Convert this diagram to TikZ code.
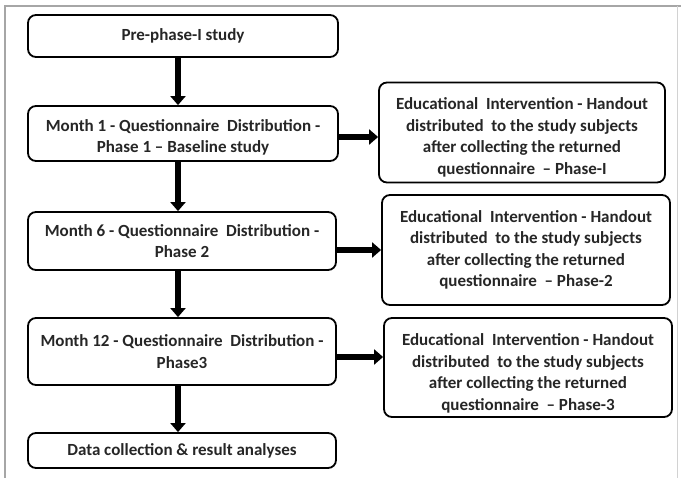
\documentclass[tikz,border=0pt]{standalone}
\usepackage{fontspec}
\setmainfont{Carlito}
\usetikzlibrary{arrows.meta,calc}
\newcommand\topgap[1]{\rule{0pt}{#1}}
\tikzset{
  box/.style={draw=black, line width=1.8pt, rounded corners=8pt, align=center,
    inner sep=0pt, font=\fontsize{17}{21.5}\selectfont\bfseries, text=black!85},
  bigarrow/.style={line width=5.5pt, -{Triangle[length=9pt,width=15pt]}, black},
  frameline/.style={line width=1.2pt, draw=gray!70}
}
\begin{document}
\begin{tikzpicture}[x=1pt,y=-1pt]
\useasboundingbox (0,0) rectangle (681,478);
\fill[white] (0,0) rectangle (681,478);
% frame
\draw[frameline] (5,478) -- (5,6) -- (681,6);
\draw[line width=1pt, draw=gray!35] (677,6) -- (677,478);
% left column
\node[box, minimum width=310, minimum height=42] (A) at (183,36) {Pre-phase-I study};
\node[box, minimum width=310, minimum height=55] (B) at (183,133.5) {\topgap{20pt}Month 1 - Questionnaire\ \ Distribution -\\Phase 1 – Baseline study};
\node[box, minimum width=308, minimum height=58] (C) at (182,241) {Month 6 - Questionnaire\ \ Distribution -\\Phase 2};
\node[box, minimum width=308, minimum height=67] (D) at (182,351.5) {Month 12 - Questionnaire\ \ Distribution -\\Phase3};
\node[box, minimum width=308, minimum height=35] (E) at (182,450.5) {Data collection \& result analyses};
% right column
\node[box, minimum width=286, minimum height=100] (R1) at (522,132.5) {\topgap{22pt}Educational\ \ Intervention - Handout\\distributed\ \ to the study subjects\\after collecting the returned\\questionnaire\ \ – Phase-I};
\node[box, minimum width=288, minimum height=110] (R2) at (526,250) {Educational\ \ Intervention - Handout\\distributed\ \ to the study subjects\\after collecting the returned\\questionnaire\ \ – Phase-2};
\node[box, minimum width=288, minimum height=99] (R3) at (528,367.5) {\topgap{24pt}Educational\ \ Intervention - Handout\\distributed\ \ to the study subjects\\after collecting the returned\\questionnaire\ \ – Phase-3};
% vertical arrows
\draw[bigarrow] ([xshift=-5pt]A.south) -- ([xshift=-5pt]A.south |- B.north);
\draw[bigarrow] ([xshift=-5pt]B.south) -- ([xshift=-5pt]B.south |- C.north);
\draw[bigarrow] ([xshift=-4pt]C.south) -- ([xshift=-4pt]C.south |- D.north);
\draw[bigarrow] ([xshift=-4pt]D.south) -- ([xshift=-4pt]D.south |- E.north);
% horizontal arrows
\draw[bigarrow] ([yshift=-3.5pt]B.east) -- ([yshift=-3.5pt]B.east -| R1.west);
\draw[bigarrow] (R2.west -| C.east) -- (R2.west);
\draw[bigarrow] ([yshift=-5.5pt]D.east) -- ([yshift=-5.5pt]D.east -| R3.west);
\end{tikzpicture}
\end{document}
